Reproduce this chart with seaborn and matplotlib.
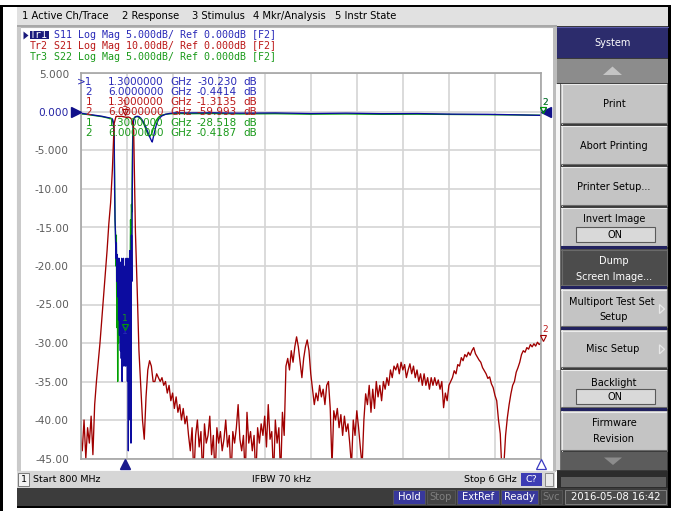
import numpy as np
import pandas as pd
import matplotlib
matplotlib.use("Agg")
import matplotlib.pyplot as plt
import seaborn as sns
from matplotlib.patches import Rectangle, Polygon
from matplotlib.transforms import offset_copy

# ---------------- data ----------------
# reflection traces (S11, S22) share a frequency list, GHz
freq_refl = [
    0.80, 0.86, 0.92, 0.98, 1.04, 1.10, 1.14, 1.16, 1.17, 1.175,
    1.180, 1.185, 1.190, 1.195, 1.200, 1.205, 1.210, 1.215, 1.220, 1.225,
    1.230, 1.235, 1.240, 1.245, 1.250, 1.255, 1.260, 1.265, 1.270, 1.275,
    1.280, 1.285, 1.290, 1.295, 1.300, 1.305, 1.310, 1.315, 1.320, 1.325,
    1.330, 1.335, 1.340, 1.345, 1.350, 1.355, 1.360, 1.365, 1.370, 1.375,
    1.380, 1.385, 1.390, 1.395, 1.400, 1.41, 1.42, 1.44, 1.46, 1.48,
    1.50, 1.52, 1.54, 1.56, 1.58, 1.60, 1.61, 1.62, 1.64, 1.66,
    1.68, 1.70, 1.72, 1.76, 1.80, 1.85, 1.90, 2.00, 2.30, 2.60,
    3.00, 3.40, 3.80, 4.20, 4.60, 5.00, 5.40, 5.70, 6.00]

s11_db = [
    -0.15, -0.25, -0.35, -0.45, -0.55, -0.7, -0.8, -0.9, -1.3, -2.0,
    -3, -10, -14, -16, -19, -17, -22, -18.5, -24, -19,
    -27, -19, -29, -20, -31, -19.5, -32, -19, -35, -20,
    -30, -19, -33, -21, -30.23, -20, -33, -19, -31, -20,
    -35, -19, -44, -20, -37, -18, -40, -18, -43, -16,
    -22, -10, -5, -2, -1.0, -0.8, -0.65, -0.55, -0.6, -0.8,
    -1.1, -1.5, -2.0, -2.6, -3.2, -3.7, -3.9, -3.4, -2.4, -1.5,
    -1.0, -0.7, -0.5, -0.3, -0.2, -0.12, -0.1, -0.12, -0.1, -0.15,
    -0.12, -0.2, -0.15, -0.22, -0.2, -0.28, -0.3, -0.36, -0.4414]

s22_db = [
    -0.25, -0.3, -0.4, -0.5, -0.6, -0.75, -0.85, -1.0, -1.5, -2.2,
    -3, -8, -14, -15.5, -20, -16, -28, -19, -35, -22,
    -30, -21, -27, -22, -26, -21, -28, -23, -29, -24,
    -30, -23, -28, -24, -28.518, -23, -27, -22, -26, -21,
    -25, -22, -29, -20, -27, -18, -22, -14, -17, -12,
    -13, -6, -3, -1.5, -0.9, -0.7, -0.6, -0.6, -0.7, -0.9,
    -1.2, -1.7, -2.3, -2.9, -3.2, -2.9, -2.6, -2.2, -1.5, -1.0,
    -0.7, -0.5, -0.4, -0.3, -0.25, -0.22, -0.2, -0.22, -0.2, -0.25,
    -0.22, -0.28, -0.25, -0.3, -0.28, -0.32, -0.35, -0.38, -0.4187]

# transmission S21 in dB, sampled every 20 MHz from 0.80 GHz
s21_start_ghz = 0.80
s21_step_ghz = 0.02
s21_db = [
    -84, -88, -80, -90, -82, -86, -79, -89, -76, -70,
    -65, -60, -54, -48, -42, -36, -29, -23.6, -15, -3,
    -1.2, -1.1, -1.2, -1.1, -1.2, -1.31, -1.4, -1.3, -1.5, -2.0,
    -4, -31, -46, -62, -71, -80, -85, -74, -67, -64.6,
    -66, -70, -70, -68, -69, -70, -69, -71, -70, -73,
    -71, -75, -73, -77, -74, -78, -76, -80, -77, -81,
    -79, -84, -88, -82, -95, -84, -80, -87, -83, -95,
    -81, -86, -84, -79, -89, -84, -95, -82, -86, -83,
    -88, -85, -80, -87, -84, -95, -83, -86, -82, -76,
    -85, -88, -84, -95, -78, -86, -83, -88, -84, -95,
    -82, -86, -81, -84, -79, -87, -76, -85, -83, -95,
    -80, -86, -82, -95, -78, -84,
    -66, -64, -67, -62, -65, -61, -58.4, -61, -65, -69,
    -64, -61, -59.2, -62, -68, -72, -76, -73, -75, -71,
    -74, -72, -76, -71, -70, -77, -92, -77.6, -80, -77,
    -82, -78.6, -84, -79, -83, -81, -86, -92, -80, -84,
    -77.6, -82, -87.2, -92, -80, -73.2, -76, -71, -78, -72,
    -77, -70, -74, -71, -75, -70, -72, -69, -71, -67,
    -69, -66, -67, -65.4, -68, -65, -67, -65.6, -69, -67,
    -65.4, -68, -66, -69, -67, -70, -68, -71, -68, -71,
    -69, -72, -69, -71, -69, -71, -69.6, -72, -70, -76.8,
    -73, -75, -71, -70, -69, -67.2, -68, -65.6, -66, -63.8,
    -64.6, -63, -63.6, -62.4, -63.2, -62, -61.2, -62.8, -63.6, -64.4,
    -65, -66.4, -67.2, -68, -69.2, -68.8, -70.6, -71.6, -73.6, -75,
    -80, -83.6, -94, -92, -84, -79.4, -76, -73.2, -71, -70,
    -67.6, -66.4, -65, -63, -62, -62.4, -61.2, -61.6, -60.4, -61,
    -60.2, -60.8, -59.8, -60.4, -59.993]

# trace scales (dB per division) relative to the Tr1 grid
scale_s11, scale_s21, scale_s22 = 5.0, 10.0, 5.0

ytick_values = [5, 0, -5, -10, -15, -20, -25, -30, -35, -40, -45]
ytick_labels = ["5.000", "0.000", "-5.000", "-10.00", "-15.00", "-20.00",
                "-25.00", "-30.00", "-35.00", "-40.00", "-45.00"]
x_start_ghz, x_stop_ghz = 0.8, 6.0

header_lines = [("Tr1", "S11 Log Mag 5.000dB/ Ref 0.000dB [F2]"),
                ("Tr2", "S21 Log Mag 10.00dB/ Ref 0.000dB [F2]"),
                ("Tr3", "S22 Log Mag 5.000dB/ Ref 0.000dB [F2]")]
marker_ids = [">1", "2", "1", "2", "1", "2"]
marker_freqs = ["1.3000000", "6.0000000", "1.3000000", "6.0000000", "1.3000000", "6.0000000"]
marker_vals = ["-30.230", "-0.4414", "-1.3135", "-59.993", "-28.518", "-0.4187"]
marker_trace = ["S11", "S11", "S21", "S21", "S22", "S22"]

menu_items = ["1 Active Ch/Trace", "2 Response", "3 Stimulus", "4 Mkr/Analysis", "5 Instr State"]
softkeys = ["System", "Print", "Abort Printing", "Printer Setup...", "Invert Image",
            "Dump\nScreen Image...", "Multiport Test Set\nSetup", "Misc Setup",
            "Backlight", "Firmware\nRevision"]
status_left, status_mid, status_right = "Start 800 MHz", "IFBW 70 kHz", "Stop 6 GHz"
bottom_items = ["Hold", "Stop", "ExtRef", "Ready", "Svc"]
timestamp = "2016-05-08 16:42"

# ---------------- build table ----------------
s21_freq = s21_start_ghz + s21_step_ghz * np.arange(len(s21_db))
df = pd.concat([
    pd.DataFrame({"freq": freq_refl, "disp": np.array(s22_db) * (5.0 / scale_s22), "trace": "S22"}),
    pd.DataFrame({"freq": freq_refl, "disp": np.array(s11_db) * (5.0 / scale_s11), "trace": "S11"}),
    pd.DataFrame({"freq": s21_freq, "disp": np.array(s21_db) * (5.0 / scale_s21), "trace": "S21"}),
], ignore_index=True)

trace_col = {"S11": "#0c0ca0", "S21": "#a00000", "S22": "#00a000"}
text_col = {"S11": "#2a2ab8", "S21": "#bb1818", "S22": "#1a9a1a"}

sns.set_style("white")
plt.rcParams['font.family'] = ['DejaVu Sans']

W, H = 681, 511
fig = plt.figure(figsize=(W / 100, H / 100), dpi=100)
fig.patch.set_facecolor("white")
bg = fig.add_axes([0, 0, 1, 1], zorder=0)
bg.set_xlim(0, W)
bg.set_ylim(H, 0)
bg.axis("off")


def rect(x0, y0, x1, y1, fc, ec="none", lw=0, z=1):
    bg.add_patch(Rectangle((x0, y0), x1 - x0, y1 - y0, facecolor=fc,
                           edgecolor=ec, linewidth=lw, zorder=z))


def txt(x, y, s, size=7.2, color="black", ha="left", va="center", family=None, z=6, **kw):
    bg.text(x, y, s, fontsize=size, color=color, ha=ha, va=va,
            family=family or ["DejaVu Sans"], zorder=z, **kw)


def ctxt(x, y, s, size=7.0, color="black"):
    txt(x, y, s, size=size, color=color, ha="center")


# outer frame
rect(0, 5, 3, 511, "black", z=3)
rect(0, 5, 671, 7, "black", z=3)
rect(668, 5, 671, 508, "black", z=3)
rect(17, 506, 671, 508, "black", z=3)

# menu bar
rect(17, 7, 668, 26, "#e1e1e1")
rect(17, 25.5, 557, 26.8, "#a8a8a8")
menu_x = [22, 122.5, 192.5, 253, 335]
for mx, item in zip(menu_x, menu_items):
    txt(mx, 15.7, item, size=7.2)
    rect(mx, 20.6, mx + 6, 21.4, "black", z=4)

# trace window
rect(17, 27, 555, 471, "white", ec="#b8b8b8", lw=0.8)
rect(17, 27, 20.5, 471, "#cacaca", z=2)
rect(552.5, 27, 556.5, 471, "#bcbcbc", z=2)

# header lines
mono = ["DejaVu Sans Mono"]
for k, (tr, rest) in enumerate(header_lines):
    yy = 35 + 11 * k
    col = text_col[["S11", "S21", "S22"][k]]
    if k == 0:
        rect(29.5, 31, 48.5, 39.5, "#1a1a7c", z=5)
        txt(30, yy, tr, size=7.2, color="white", family=mono)
        bg.add_patch(Polygon([(23.5, 31.5), (23.5, 39.5), (28.5, 35.5)], closed=True,
                             facecolor="#1a1a7c", edgecolor="none", zorder=6))
    else:
        txt(30, yy, tr, size=7.2, color=col, family=mono)
    txt(54.5, yy, rest, size=7.2, color=col, family=mono)

# right soft-key panel
rect(557, 26, 668, 488, "#3a3a3a")
rect(557, 27, 668, 58, "#2c2c6c")
bg.plot([557, 668], [27.5, 27.5], color="#5a5aa8", lw=0.8, zorder=3)
ctxt(612.5, 42.5, softkeys[0], color="white")
rect(557, 59, 668, 83, "#8c8c8c")
bg.add_patch(Polygon([(603, 75), (622, 75), (612.5, 66.5)], closed=True,
                     facecolor="#c4c4c4", edgecolor="none", zorder=4))
rect(555.5, 84, 561, 370, "#f6f6f6", z=2)
rect(555.5, 370, 561, 470, "#d9d9d9", z=2)
rect(559.5, 84, 561, 470, "#707070", z=2)


def button(y0, y1, fc="#c4c4c4"):
    rect(561, y0, 667, y1, fc, z=2)
    hi = "#ececec" if fc != "#4c4c4c" else "#6a6a6a"
    bg.plot([561, 667], [y0 + 0.5, y0 + 0.5], color=hi, lw=0.8, zorder=3)
    bg.plot([561.5, 561.5], [y0, y1], color=hi, lw=0.8, zorder=3)
    bg.plot([561, 667], [y1 - 0.5, y1 - 0.5], color="#6a6a6a", lw=0.8, zorder=3)
    bg.plot([666.5, 666.5], [y0, y1], color="#6a6a6a", lw=0.8, zorder=3)


def arrow(y):
    bg.add_patch(Polygon([(659.5, y - 4.5), (659.5, y + 4.5), (664.5, y)], closed=True,
                         facecolor="none", edgecolor="#e8e8e8", lw=0.9, zorder=5))


def onbox(y0, y1):
    rect(576, y0, 655, y1, "#d9d9d9", ec="#5a5a5a", lw=0.8, z=4)
    ctxt(615.5, (y0 + y1) / 2, "ON")


cx = 614
button(84, 124); ctxt(cx, 104, softkeys[1])
button(126, 165); ctxt(cx, 145.7, softkeys[2])
button(167, 206); ctxt(cx, 186.7, softkeys[3])
button(208, 246.5); ctxt(cx, 219.5, softkeys[4]); onbox(227.5, 242.5)
rect(561, 246.5, 667, 249.5, "#22225e", z=3)
button(249.5, 286, fc="#4c4c4c")
ctxt(cx, 260.7, softkeys[5].split("\n")[0], color="white")
ctxt(cx, 276.7, softkeys[5].split("\n")[1], color="white")
rect(561, 286, 667, 289.5, "#22225e", z=3)
button(289.5, 327)
ctxt(cx - 2, 301.7, softkeys[6].split("\n")[0]); ctxt(cx, 316.7, softkeys[6].split("\n")[1]); arrow(309)
rect(561, 327, 667, 330.5, "#22225e", z=3)
button(330.5, 368); ctxt(cx - 1, 349.3, softkeys[7]); arrow(349.3)
button(370, 408); ctxt(cx, 382.5, softkeys[8]); onbox(389.5, 404.5)
rect(561, 408, 667, 411.5, "#22225e", z=3)
button(411.5, 451)
ctxt(cx, 423.3, softkeys[9].split("\n")[0]); ctxt(cx, 439.3, softkeys[9].split("\n")[1])
rect(561, 452.5, 667, 470.5, "#5c5c5c", z=2)
bg.add_patch(Polygon([(604, 457.5), (622, 457.5), (613, 465)], closed=True,
                     facecolor="#8c8c8c", edgecolor="none", zorder=4))
rect(557, 471, 668, 488, "#2c2c2c", z=2)
rect(561, 477, 666, 487, "#5e5e5e", z=3)

# status bar
rect(17, 471, 555, 488, "#d6d6d6", z=2)
rect(18, 473, 29, 486, "#f2f2f2", ec="#7a7a7a", lw=0.7, z=3)
txt(23.5, 479.5, "1", size=6.8, ha="center")
txt(33, 479.5, status_left, size=6.8)
txt(281, 479.5, status_mid, size=6.8, ha="center")
txt(517, 479.5, status_right, size=6.8, ha="right")
rect(521, 473, 542, 486, "#3c3cb4", z=3)
txt(531.5, 479.5, "C?", size=6.8, color="white", ha="center")
rect(545, 473, 553, 486, "#eaeaea", ec="#8a8a8a", lw=0.7, z=3)

# bottom bar
rect(17, 488, 668, 506, "#3c3c3c", z=2)
box_x = [(393, 425), (427, 455), (457, 499), (501, 538), (541, 562)]
active = [True, False, True, True, False]
for (x0, x1), item, on in zip(box_x, bottom_items, active):
    rect(x0, 490, x1, 504.5, "#38389c" if on else "#444444", ec="#5a5a5a", lw=0.6, z=3)
    txt((x0 + x1) / 2, 497.3, item, size=7.2, color="white" if on else "#7e7e7e", ha="center")
rect(565, 490, 666, 504.5, "#4a4a4a", ec="#8a8a8a", lw=0.6, z=3)
txt(615.5, 497.3, timestamp, size=7.2, color="white", ha="center")

# ---------------- main trace axes ----------------
ax = fig.add_axes([80.5 / W, 1 - 458.5 / H, (541 - 80.5) / W, (458.5 - 73.5) / H], zorder=2)
ax.set_facecolor("none")
sns.lineplot(data=df, x="freq", y="disp", hue="trace", hue_order=["S22", "S11", "S21"],
             palette=trace_col, estimator=None, sort=False, linewidth=0.95,
             legend=False, ax=ax)
ax.set_xlim(x_start_ghz, x_stop_ghz)
ax.set_ylim(-45, 5)
ax.set_xticks(np.linspace(x_start_ghz, x_stop_ghz, 11))
ax.set_yticks(ytick_values)
ax.set_yticklabels(ytick_labels)
ax.grid(True, color="#d4d4d4", linewidth=1.2)
ax.set_axisbelow(True)
ax.tick_params(axis="both", length=0, labelbottom=False, labelsize=7.6,
               labelcolor="#5c5c5c", pad=8.3)
for lab in ax.get_yticklabels():
    if lab.get_text() == "0.000":
        lab.set_color("#2424a4")
ax.set_xlabel("")
ax.set_ylabel("")
for sp in ax.spines.values():
    sp.set_color("#a4a4a4")
    sp.set_linewidth(1.2)

# reference-level arrows
off_l = offset_copy(ax.transData, fig=fig, x=-4.5, y=0, units="dots")
off_r = offset_copy(ax.transData, fig=fig, x=4.5, y=0, units="dots")
ax.plot([x_start_ghz], [0], marker=">", ms=7, color="#10108a", transform=off_l, clip_on=False, zorder=6)
ax.plot([x_stop_ghz], [0], marker="<", ms=7, color="#10108a", transform=off_r, clip_on=False, zorder=6)

# stimulus markers below grid
mk_freq = [1.3, 6.0]
off_b = offset_copy(ax.transData, fig=fig, x=0, y=-5, units="dots")
ax.plot([mk_freq[0]], [-45], marker="^", ms=6.5, color="#1a1a8c", transform=off_b, clip_on=False, zorder=6)
ax.plot([mk_freq[1]], [-45], marker="^", ms=6.5, mfc="white", mec="#3a3ac0", mew=0.9,
        transform=off_b, clip_on=False, zorder=6)

# trace markers
for tr, sc in [("S11", scale_s11), ("S21", scale_s21), ("S22", scale_s22)]:
    i0 = marker_trace.index(tr)
    pts = [(mk_freq[0], float(marker_vals[i0]) * 5.0 / sc),
           (mk_freq[1], float(marker_vals[i0 + 1]) * 5.0 / sc)]
    for n, (fx, dy) in enumerate(pts):
        oy = offset_copy(ax.transData, fig=fig, x=0 if n == 0 else 2, y=5, units="dots")
        ax.plot([fx], [dy], marker="v", ms=4, mfc="none", mec=trace_col[tr], mew=0.8,
                transform=oy, clip_on=False, zorder=6)
        ot = offset_copy(ax.transData, fig=fig, x=0 if n == 0 else 4, y=13, units="dots")
        ax.text(fx, dy, str(n + 1), color=text_col[tr], fontsize=6.5, ha="center", va="center",
                transform=ot, clip_on=False, zorder=6)

# marker readout table
for k in range(6):
    yy = 81.7 + 10.2 * k
    col = text_col[marker_trace[k]]
    kw = dict(transform=bg.transData, fontsize=7.5, color=col, va="center", zorder=7, clip_on=False)
    ax.text(92, yy, marker_ids[k], ha="right", **kw)
    ax.text(108, yy, marker_freqs[k], ha="left", **kw)
    ax.text(170, yy, "GHz", ha="left", **kw)
    ax.text(237, yy, marker_vals[k], ha="right", **kw)
    ax.text(243, yy, "dB", ha="left", **kw)

fig.savefig("out.png", dpi=100)
